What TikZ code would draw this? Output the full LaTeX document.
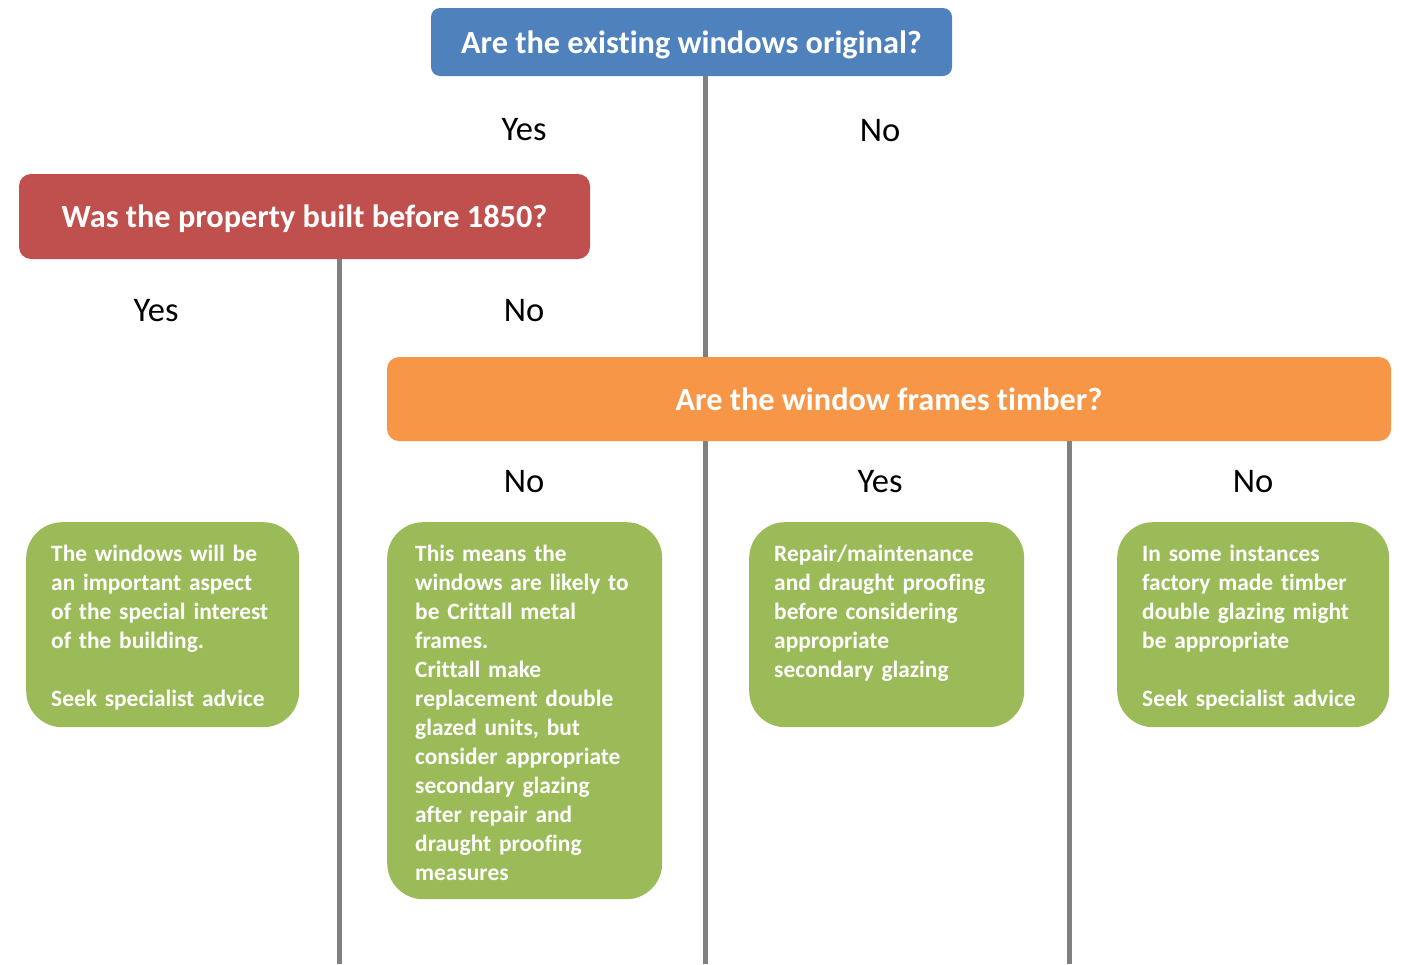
\documentclass[tikz,border=0pt]{standalone}
\usepackage{fontspec}
\setmainfont{Carlito}[Ligatures=NoCommon]
\usetikzlibrary{backgrounds}
\definecolor{qblue}{HTML}{4F81BD}
\definecolor{qred}{HTML}{C0504D}
\definecolor{qorange}{HTML}{F79646}
\definecolor{qgreen}{HTML}{9BBB59}
\definecolor{qline}{HTML}{808080}
\tikzset{
  qbox/.style={rounded corners=12pt, inner sep=0pt, text=white, text depth=0pt,
    font=\fontsize{32.3}{38}\selectfont\bfseries},
  gbox/.style={fill=qgreen, rounded corners=36pt, inner sep=0pt, anchor=north west},
  gtext/.style={anchor=north west, inner sep=0pt, text=white, align=left,
    text width=250pt, font=\fontsize{23.4}{29}\selectfont\bfseries},
  lbl/.style={font=\fontsize{34.5}{40}\selectfont, inner sep=0pt},
  conn/.style={draw=qline, line width=5pt}
}
\begin{document}
\begin{tikzpicture}[x=1pt,y=-1pt]
\useasboundingbox (0,0) rectangle (1403,964);
% question boxes
\node[qbox, fill=qblue, minimum width=521pt, minimum height=68pt, rounded corners=9pt] (q1) at (691.5,42) {Are the existing windows original?};
\node[qbox, fill=qred, minimum width=571pt, minimum height=85pt] (q2) at (304.5,216.5) {Was the property built before 1850?};
\node[qbox, fill=qorange, minimum width=1004pt, minimum height=84pt] (q3) at (889,399) {Are the window frames timber?};
% answer boxes
\node[gbox, minimum width=273pt, minimum height=205pt] (g1) at (26,522) {};
\node[gbox, minimum width=275pt, minimum height=377pt] (g2) at (387,522) {};
\node[gbox, minimum width=275pt, minimum height=205pt] (g3) at (749,522) {};
\node[gbox, minimum width=272pt, minimum height=205pt] (g4) at (1117,522) {};
\node[gtext] (t1) at (51,545) {The windows will be\\an important aspect\\of the special interest\\of the building.\\[29pt]Seek specialist advice};
\node[gtext] (t2) at (415,545) {This means the\\windows are likely to\\be Crittall metal\\frames.\\Crittall make\\replacement double\\glazed units, but\\consider appropriate\\secondary glazing\\after repair and\\draught proofing\\measures};
\node[gtext] (t3) at (774,545) {Repair/maintenance\\and draught proofing\\before considering\\appropriate\\secondary glazing};
\node[gtext] (t4) at (1142,545) {In some instances\\factory made timber\\double glazing might\\be appropriate\\[29pt]Seek specialist advice};
% labels
\node[lbl] (y1) at (524,130) {Yes};
\node[lbl] (n1) at (880,131) {No};
\node[lbl] (y2) at (156,311) {Yes};
\node[lbl] (n2) at (524,311) {No};
\node[lbl] (n3) at (524,482) {No};
\node[lbl] (y3) at (880,482) {Yes};
\node[lbl] (n4) at (1253,482) {No};
% connector ends
\coordinate (e1) at (339,964);
\coordinate (e2) at (705,964);
\coordinate (e3) at (1069,964);
\begin{pgfonlayer}{background}
\draw[conn] (q2.south -| e1) -- (e1);
\draw[conn] (q1.south -| e2) -- (e2);
\draw[conn] (q3.south -| e3) -- (e3);
\end{pgfonlayer}
\end{tikzpicture}
\end{document}
